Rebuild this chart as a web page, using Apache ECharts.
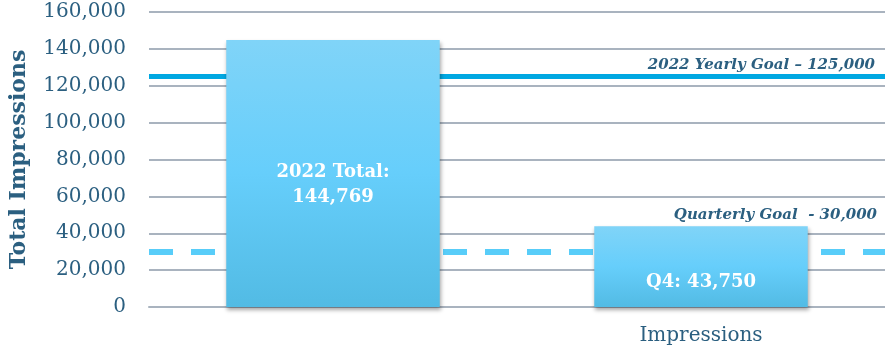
<!DOCTYPE html>
<html>
<head>
<meta charset="utf-8">
<script src="https://cdn.jsdelivr.net/npm/echarts@6/dist/echarts.min.js"></script>
<style>
  html, body { margin: 0; padding: 0; background: #fff; }
  #chart { width: 885px; height: 352px; }
</style>
</head>
<body>
<div id="chart"></div>
<script>
// Impressions: full-year total against the latest quarter
const categories = ['', 'Impressions'];
const impressions = [144769, 43750];
const barLabelPrefixes = ['2022 Total:\n', 'Q4: '];
const yearlyGoal = 125000;
const quarterlyGoal = 30000;
const yearlyGoalText = '2022 Yearly Goal \u2013 ';
const quarterlyGoalText = 'Quarterly Goal  - ';
const yTicks = { min: 0, max: 160000, interval: 20000 };

const fmt = v => Number(v).toLocaleString('en-US');
const serif = "'DejaVu Serif', 'Liberation Serif', serif";
const textBlue = '#2b5f80';
const gridGray = '#a9b3bf';

// label placement inside each bar
const barLabelOffsets = [[0, 11], [0, 16]];

const chart = echarts.init(document.getElementById('chart'));

chart.setOption({
  animation: false,
  grid: { left: 148, right: 0, top: 12, bottom: 45 },
  xAxis: {
    type: 'category',
    data: categories,
    axisTick: { show: false },
    axisLine: { lineStyle: { color: gridGray, width: 2 } },
    axisLabel: { color: textBlue, fontFamily: serif, fontSize: 20, margin: 19 }
  },
  yAxis: {
    type: 'value',
    min: yTicks.min,
    max: yTicks.max,
    interval: yTicks.interval,
    name: 'Total Impressions',
    nameLocation: 'middle',
    nameRotate: 90,
    nameGap: 119,
    nameTextStyle: { color: textBlue, fontFamily: serif, fontSize: 22, fontWeight: 'bold' },
    axisLine: { show: false },
    axisTick: { show: false },
    axisLabel: { color: textBlue, fontFamily: serif, fontSize: 20, margin: 23, formatter: v => fmt(v) },
    splitLine: { lineStyle: { color: gridGray, width: 2 } }
  },
  series: [
    {
      // goal reference lines, drawn underneath the bars
      type: 'line',
      data: [],
      z: 1,
      markLine: {
        z: 1,
        silent: true,
        symbol: ['none', 'none'],
        data: [
          {
            yAxis: yearlyGoal,
            lineStyle: { color: '#00a8e2', width: 5, type: 'solid' },
            label: {
              show: true,
              position: 'insideEndTop',
              distance: [10, 4],
              formatter: yearlyGoalText + fmt(yearlyGoal),
              color: textBlue,
              fontFamily: serif,
              fontSize: 15,
              fontStyle: 'italic',
              fontWeight: 'bold'
            }
          },
          {
            yAxis: quarterlyGoal,
            lineStyle: { color: '#58cdf9', width: 6, type: [24, 18] },
            label: {
              show: true,
              position: 'insideEndTop',
              distance: [8, 29],
              formatter: quarterlyGoalText + fmt(quarterlyGoal),
              color: textBlue,
              fontFamily: serif,
              fontSize: 15,
              fontStyle: 'italic',
              fontWeight: 'bold'
            }
          }
        ]
      }
    },
    {
      type: 'bar',
      z: 3,
      barWidth: '58%',
      data: impressions.map((v, i) => ({
        value: v,
        label: {
          offset: barLabelOffsets[i],
          formatter: p => barLabelPrefixes[i] + fmt(p.value)
        }
      })),
      itemStyle: {
        color: new echarts.graphic.LinearGradient(0, 0, 0, 1, [
          { offset: 0, color: '#80d4f8' },
          { offset: 0.5, color: '#66cefb' },
          { offset: 1, color: '#52bbe4' }
        ]),
        shadowColor: 'rgba(0,0,0,0.35)',
        shadowBlur: 4,
        shadowOffsetX: 1,
        shadowOffsetY: 3
      },
      label: {
        show: true,
        position: 'inside',
        color: '#ffffff',
        fontFamily: serif,
        fontSize: 18,
        fontWeight: 'bold',
        lineHeight: 25,
        align: 'center'
      }
    }
  ]
});
</script>
</body>
</html>
